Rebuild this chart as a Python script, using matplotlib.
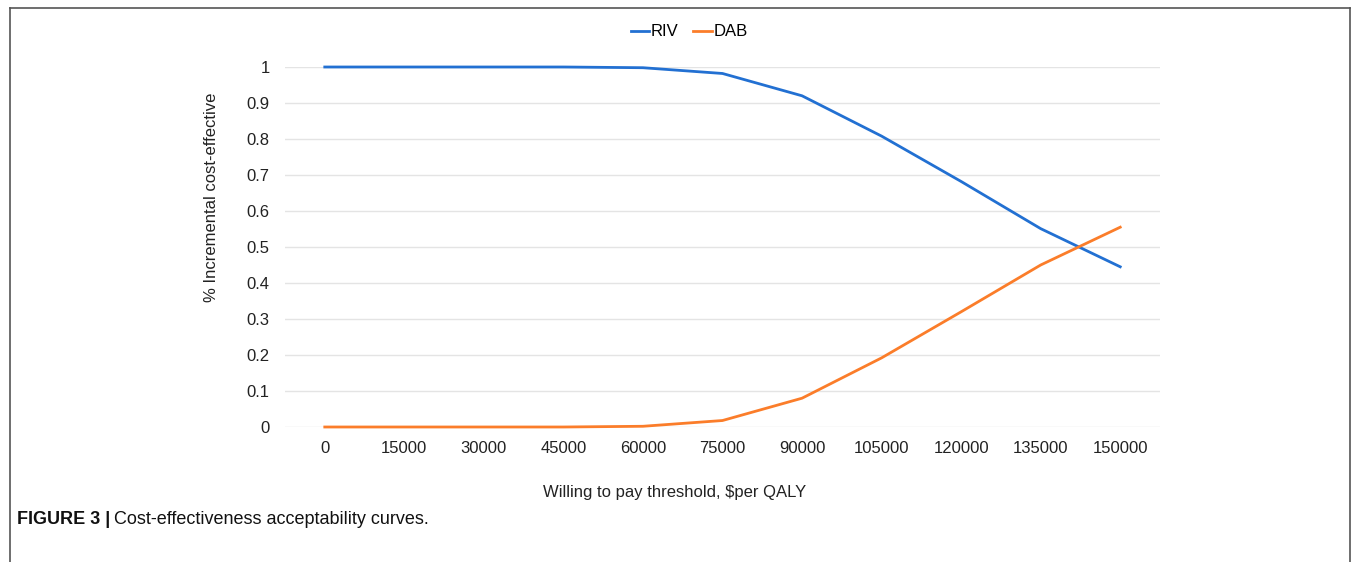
import matplotlib
matplotlib.use("Agg")
import matplotlib.pyplot as plt
from matplotlib.lines import Line2D

plt.rcParams["font.family"] = ["Liberation Sans", "DejaVu Sans"]

W, H = 1355, 562
BLUE = "#2270d2"
ORANGE = "#fb7d2a"
GRID = "#e4e4e4"
INK = "#222222"

thresholds = ["0", "15000", "30000", "45000", "60000", "75000", "90000",
              "105000", "120000", "135000", "150000"]
riv = [1.0, 1.0, 1.0, 1.0, 0.998, 0.982, 0.920, 0.808, 0.682, 0.551, 0.445]
dab = [0.0, 0.0, 0.0, 0.0, 0.002, 0.018, 0.080, 0.192, 0.320, 0.450, 0.555]
yticks = [0, 0.1, 0.2, 0.3, 0.4, 0.5, 0.6, 0.7, 0.8, 0.9, 1]
ytick_labels = ["0", "0.1", "0.2", "0.3", "0.4", "0.5", "0.6", "0.7", "0.8", "0.9", "1"]

fig = plt.figure(figsize=(W / 100, H / 100), dpi=100)
fig.patch.set_facecolor("white")

# plot area in pixel coords: x 285..1160, y 67..427 (from top)
ax = fig.add_axes([285 / W, (H - 427) / H, (1160 - 285) / W, (427 - 67) / H])
x = range(len(thresholds))
ax.plot(x, riv, color=BLUE, linewidth=2, label="RIV", clip_on=False, zorder=3)
ax.plot(x, dab, color=ORANGE, linewidth=2, label="DAB", clip_on=False, zorder=3)

ax.set_xlim(-0.5, len(thresholds) - 0.5)
ax.set_ylim(0, 1)
ax.set_xticks(list(x))
ax.set_xticklabels(thresholds, fontsize=12, color=INK)
ax.set_yticks(yticks)
ax.set_yticklabels(ytick_labels, fontsize=12, color=INK)
ax.tick_params(length=0)
ax.tick_params(axis="x", pad=10)
ax.tick_params(axis="y", pad=11)
ax.yaxis.grid(True, color=GRID, linewidth=1)
ax.set_axisbelow(True)
for s in ax.spines.values():
    s.set_visible(False)

fig.text(211 / W, 1 - 197 / H, "% Incremental cost-effective", rotation=90,
         ha="center", va="center", fontsize=12, color=INK)
fig.text(675 / W, 1 - 492 / H, r"Willing to pay threshold, \$per QALY",
         ha="center", va="center", fontsize=12, color=INK)

fig.legend(loc="center", bbox_to_anchor=(689 / W, 1 - 32 / H), ncol=2,
           frameon=False, fontsize=12, handlelength=1.1, handletextpad=0.1,
           columnspacing=0.9)

# figure frame (top, left, right)
fc = "#555555"
fig.add_artist(Line2D([10 / W, 1350 / W], [1 - 8 / H, 1 - 8 / H], color=fc, lw=1.2,
                      transform=fig.transFigure))
fig.add_artist(Line2D([10 / W, 10 / W], [0, 1 - 8 / H], color=fc, lw=1.2,
                      transform=fig.transFigure))
fig.add_artist(Line2D([1350 / W, 1350 / W], [0, 1 - 8 / H], color=fc, lw=1.2,
                      transform=fig.transFigure))

t1 = fig.text(17 / W, 1 - 520 / H, "FIGURE 3 |", ha="left", va="center",
              fontsize=13, fontweight="bold", color="#111111")
fig.canvas.draw()
bb = t1.get_window_extent()
fig.text((bb.x1 + 4) / W, 1 - 520 / H, "Cost-effectiveness acceptability curves.",
         ha="left", va="center", fontsize=13, color="#111111")

fig.savefig("out.png", dpi=100, facecolor="white")
